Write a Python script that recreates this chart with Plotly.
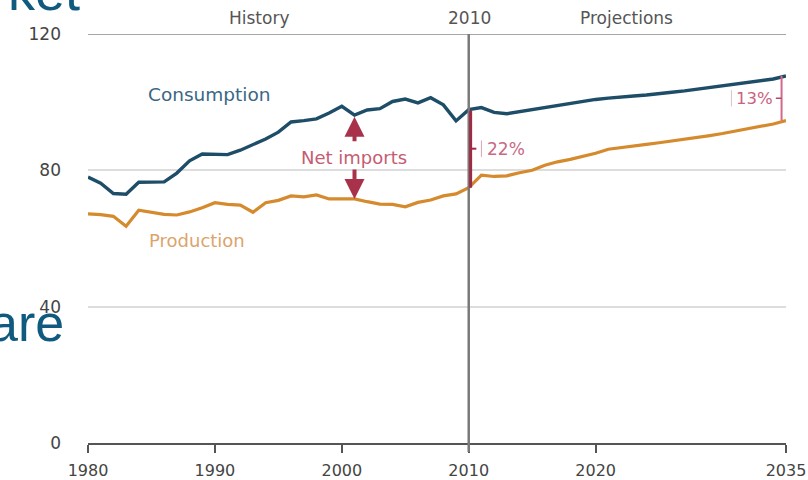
import plotly.graph_objects as go

# ---------------- data ----------------
years = list(range(1980, 2036))
consumption = [78.0, 76.2, 73.2, 73.0, 76.5, 76.5, 76.6, 79.2, 82.8, 84.8,
               84.6, 84.6, 85.9, 87.6, 89.2, 91.2, 94.2, 94.6, 95.1, 96.8,
               98.8, 96.2, 97.7, 98.1, 100.2, 100.9, 99.8, 101.3, 99.2, 94.5,
               97.8, 98.4, 97.0, 96.6, 97.2, 97.8, 98.5, 99.1, 99.6, 100.2,
               100.8, 101.2, 101.4, 101.8, 102.1, 102.6, 102.9, 103.3, 103.8, 104.2,
               104.7, 105.1, 105.6, 106.1, 106.8, 107.7]
production = [67.2, 67.0, 66.5, 63.6, 68.3, 67.6, 67.1, 66.9, 67.8, 69.0,
              70.5, 70.0, 69.8, 67.7, 70.5, 71.2, 72.5, 72.2, 72.8, 71.6,
              71.5, 71.6, 70.8, 70.1, 70.0, 69.3, 70.6, 71.3, 72.5, 73.1,
              74.9, 78.6, 78.2, 78.4, 79.3, 80.0, 81.5, 82.5, 83.2, 84.0,
              85.0, 86.2, 86.6, 87.2, 87.6, 88.1, 88.6, 89.0, 89.5, 90.2,
              90.8, 91.5, 92.2, 92.9, 93.6, 94.6]
x_ticks = [1980, 1990, 2000, 2010, 2020, 2035]
y_ticks = [0, 40, 80, 120]
y_tick_labels = ["0", "40", "80", "120"]
split_year = 2010
arrow_year = 2001
labels = {"history": "History", "split": "2010", "proj": "Projections",
          "cons": "Consumption", "prod": "Production", "net": "Net imports",
          "gap2010": "22%", "gap2035": "13%"}

# ---------------- geometry helpers ----------------
W, H = 808, 480
L, R, T, B = 88, 22, 34, 37
PW, PH = W - L - R, H - T - B


def px(x):
    return (x - L) / PW


def py(y):
    return (H - B - y) / PH


FONT = "DejaVu Sans"
C_CONS = "#1e4d68"
C_PROD = "#d68a2e"
C_RED = "#a8324a"

fig = go.Figure()
fig.add_trace(go.Scatter(x=years, y=consumption, mode="lines",
                         line=dict(color=C_CONS, width=3.4), hoverinfo="skip"))
fig.add_trace(go.Scatter(x=years, y=production, mode="lines",
                         line=dict(color=C_PROD, width=3.2), hoverinfo="skip"))

shapes = []
# top (120) line, darker
shapes.append(dict(type="line", xref="paper", yref="y", x0=0, x1=1, y0=120, y1=120,
                   line=dict(color="#8a8a8a", width=1.5), layer="below"))
# 2010 divider
shapes.append(dict(type="line", xref="x", yref="paper", x0=split_year, x1=split_year,
                   y0=-0.022, y1=1, line=dict(color="#7a7a7a", width=2.5)))

i10 = years.index(split_year)
i35 = len(years) - 1
# 2010 bracket
bx = split_year + 0.15
shapes.append(dict(type="line", xref="x", yref="y", x0=bx, x1=bx,
                   y0=production[i10], y1=consumption[i10] - 0.3,
                   line=dict(color="#9e2a44", width=3)))
mid10 = (production[i10] + consumption[i10]) / 2
shapes.append(dict(type="line", xref="x", yref="y", x0=bx, x1=bx + 0.45,
                   y0=mid10, y1=mid10, line=dict(color="#9e2a44", width=2)))
shapes.append(dict(type="line", xref="x", yref="y", x0=split_year + 1.0, x1=split_year + 1.0,
                   y0=mid10 - 2.4, y1=mid10 + 2.4, line=dict(color="#d9a3b2", width=1)))
# 2035 bracket
ex = years[-1] - 0.35
shapes.append(dict(type="line", xref="x", yref="y", x0=ex, x1=ex,
                   y0=production[i35], y1=consumption[i35],
                   line=dict(color="#d4688a", width=2)))
mid35 = (production[i35] + consumption[i35]) / 2
shapes.append(dict(type="line", xref="x", yref="y", x0=ex - 0.45, x1=ex,
                   y0=mid35, y1=mid35, line=dict(color="#b04a66", width=1.5)))
shapes.append(dict(type="line", xref="x", yref="y", x0=2030.7, x1=2030.7,
                   y0=mid35 - 2.4, y1=mid35 + 2.4, line=dict(color="#d9c3ca", width=1)))

ann = []
# header labels
for txt, xp in [(labels["history"], 259), (labels["split"], 469), (labels["proj"], 626)]:
    ann.append(dict(text=txt, xref="paper", yref="paper", x=px(xp), y=py(18),
                    showarrow=False, xanchor="center", yanchor="middle",
                    font=dict(family=FONT, size=17, color="#555555")))
# series labels
ann.append(dict(text=labels["cons"], xref="paper", yref="paper", x=px(209), y=py(95),
                showarrow=False, xanchor="center", yanchor="middle",
                font=dict(family=FONT, size=18.5, color="#3a6784")))
ann.append(dict(text=labels["prod"], xref="paper", yref="paper", x=px(197), y=py(240),
                showarrow=False, xanchor="center", yanchor="middle",
                font=dict(family=FONT, size=18, color="#dca46c")))
ann.append(dict(text=labels["net"], xref="paper", yref="paper", x=px(354), y=py(157),
                showarrow=False, xanchor="center", yanchor="middle",
                font=dict(family=FONT, size=18, color="#c55c72")))
# net import arrows
ia = years.index(arrow_year)
ann.append(dict(x=arrow_year, y=consumption[ia] - 0.5, xref="x", yref="y",
                ax=0, ay=26, text="", showarrow=True, arrowhead=2, arrowsize=1.0,
                arrowwidth=4, arrowcolor=C_RED))
ann.append(dict(x=arrow_year, y=production[ia], xref="x", yref="y",
                ax=0, ay=-31, text="", showarrow=True, arrowhead=2, arrowsize=1.0,
                arrowwidth=4, arrowcolor=C_RED))
# gap labels
ann.append(dict(text=labels["gap2010"], xref="x", yref="y", x=split_year + 1.3, y=mid10,
                showarrow=False, xanchor="left", yanchor="middle",
                font=dict(family=FONT, size=17, color="#c86a84")))
ann.append(dict(text=labels["gap2035"], xref="x", yref="y", x=ex - 0.5, y=mid35,
                showarrow=False, xanchor="right", yanchor="middle",
                font=dict(family=FONT, size=16.5, color="#c9627e")))
# slide title fragments behind chart
ann.append(dict(text="ket", xref="paper", yref="paper", x=px(6), y=py(23),
                showarrow=False, xanchor="left", yanchor="bottom",
                font=dict(family="Liberation Sans", size=54, color="#0f5a7e")))
ann.append(dict(text="are", xref="paper", yref="paper", x=px(-13), y=py(354),
                showarrow=False, xanchor="left", yanchor="bottom",
                font=dict(family="Liberation Sans", size=52, color="#0f5a7e")))

fig.update_layout(
    width=W, height=H, margin=dict(l=L, r=R, t=T, b=B, autoexpand=False),
    paper_bgcolor="white", plot_bgcolor="white", showlegend=False,
    shapes=shapes, annotations=ann,
    xaxis=dict(range=[1980, 2035], tickvals=x_ticks, ticktext=[str(v) for v in x_ticks],
               automargin=False,
               showgrid=False, zeroline=False, showline=True, linecolor="#555555",
               linewidth=2, ticks="outside", ticklen=8, tickwidth=2, tickcolor="#555555",
               ticklabelstandoff=4,
               tickfont=dict(family=FONT, size=16, color="#444444")),
    yaxis=dict(range=[0, 120], tickvals=y_ticks, ticktext=y_tick_labels,
               automargin=False,
               showgrid=True, gridcolor="#dddddd", gridwidth=1.5, zeroline=False,
               showline=False, ticks="", ticklabelstandoff=26,
               tickfont=dict(family=FONT, size=17, color="#444444")),
)

fig.write_html("out.html", config={"displayModeBar": False},
               post_script="document.body.style.margin='0px';document.body.style.overflow='hidden';")
